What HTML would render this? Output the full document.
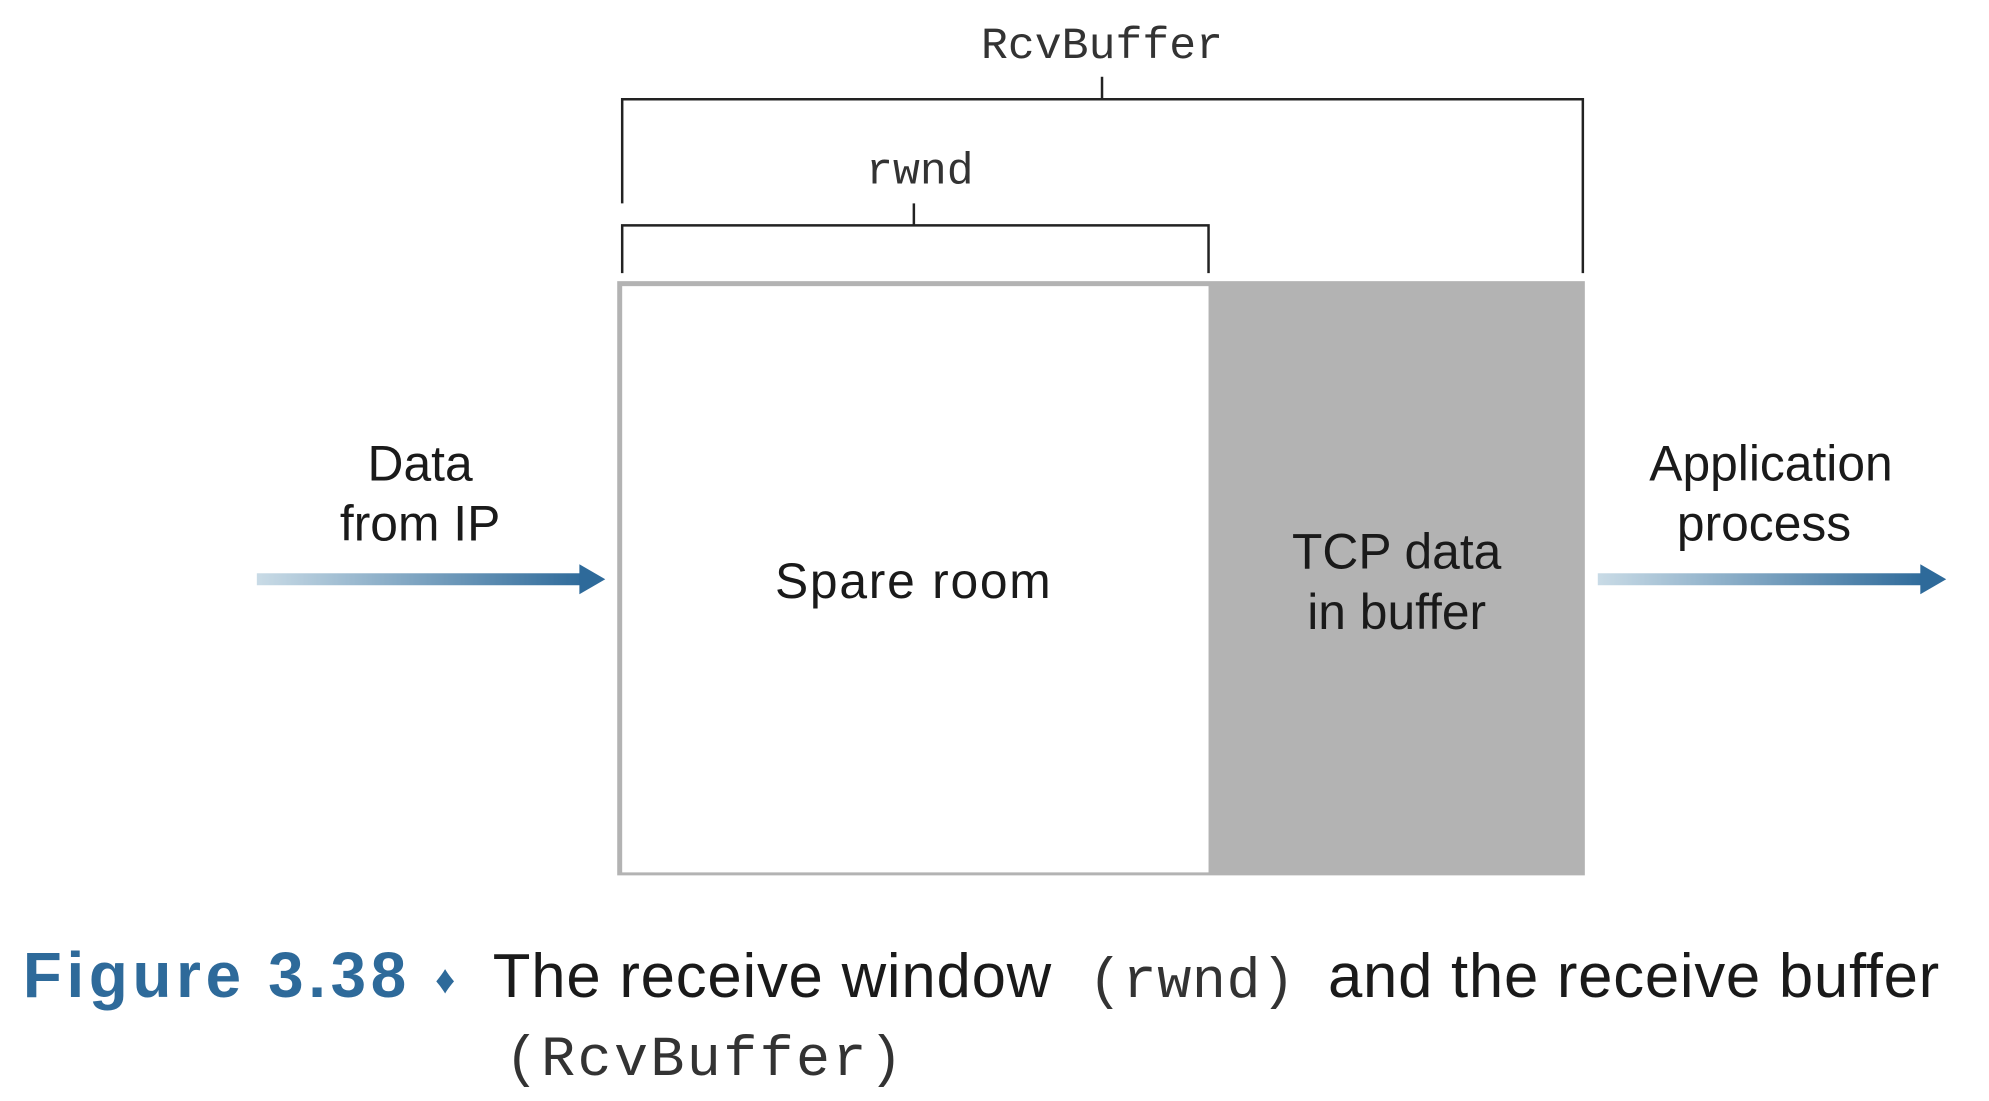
<!DOCTYPE html>
<html><head><meta charset="utf-8"><style>html,body{margin:0;padding:0;background:#fff}svg{display:block}</style></head>
<body>
<svg width="1989" height="1101" viewBox="0 0 1989 1101" xmlns="http://www.w3.org/2000/svg">
<defs>
<linearGradient id="g" x1="0" x2="1" y1="0" y2="0">
<stop offset="0" stop-color="#c9dbe6"/><stop offset="1" stop-color="#2e6a9a"/>
</linearGradient>
</defs>
<g transform="scale(0.9955 0.997)">
<g font-family="Liberation Mono, monospace" fill="#333">
<text x="1107" y="58" font-size="45" text-anchor="middle">RcvBuffer</text>
<text x="924" y="184" font-size="45" text-anchor="middle">rwnd</text>
</g>
<g stroke="#222" stroke-width="2.5" fill="none">
<path d="M625 204 V99.5 H1590 V274"/>
<path d="M1107 77 V99.5"/>
<path d="M625 274 V226 H1214 V274"/>
<path d="M918 204 V226"/>
</g>
<rect x="620" y="282" width="972" height="596" fill="#b3b3b3"/>
<rect x="625" y="287" width="589" height="588" fill="#fff"/>
<g font-family="Liberation Sans, sans-serif" font-size="50" fill="#1a1a1a" text-anchor="middle">
<text x="917" y="600" textLength="277">Spare room</text>
<text x="1403" y="570">TCP data</text>
<text x="1403" y="631">in buffer</text>
<text x="422" y="482">Data</text>
<text x="422" y="542">from IP</text>
<text x="1779" y="482">Application</text>
<text x="1772" y="542">process</text>
</g>
<rect x="258" y="575" width="330" height="12" fill="url(#g)"/>
<polygon points="582,566 608,581 582,596" fill="#2e6a9a"/>
<rect x="1605" y="575" width="330" height="12" fill="url(#g)"/>
<polygon points="1929,566 1955,581 1929,596" fill="#2e6a9a"/>
<text x="23" y="1000" font-family="Liberation Sans, sans-serif" font-weight="bold" font-size="64" fill="#2e6a9a" textLength="385">Figure 3.38</text>
<text x="437" y="996" font-family="Liberation Sans, sans-serif" font-size="40" fill="#2e6a9a">♦</text>
<g font-family="Liberation Sans, sans-serif" font-size="62" fill="#1a1a1a">
<text x="495" y="1000" textLength="561">The receive window</text>
<text x="1334" y="1000" textLength="614">and the receive buffer</text>
</g>
<g font-family="Liberation Mono, monospace" font-size="57" fill="#333">
<text x="1093" y="1000" textLength="208">(rwnd)</text>
<text x="507" y="1078" textLength="400">(RcvBuffer)</text>
</g>
</g>
</svg>
</body></html>
